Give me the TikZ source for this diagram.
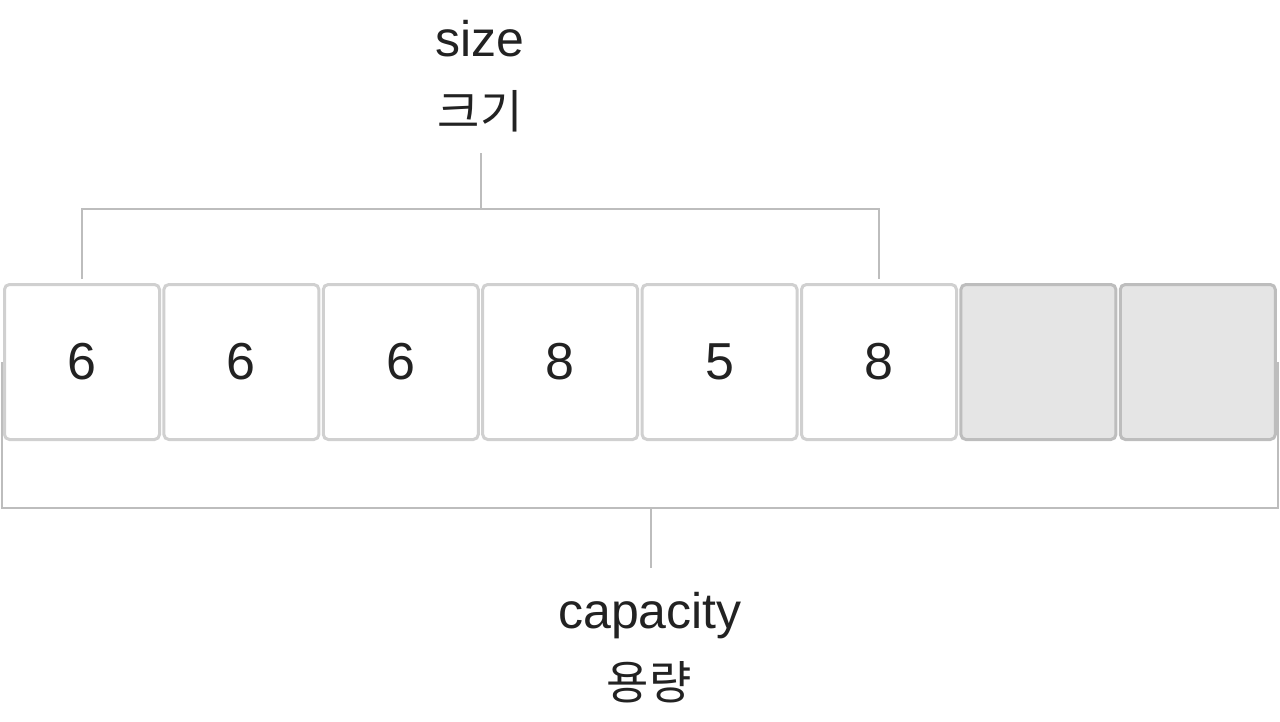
\documentclass[tikz,border=0pt]{standalone}
\usepackage{fontspec}
\setmainfont{Liberation Sans}
\newfontfamily\kr{Noto Sans CJK KR}
\begin{document}
\begin{tikzpicture}[x=1pt,y=-1pt,
  cell/.style={draw=cellline, line width=3pt, rounded corners=5pt, fill=white,
    minimum width=155pt, minimum height=155pt, inner sep=0pt, text=txt,
    font=\fontsize{52}{62}\selectfont},
  emptycell/.style={cell, draw=emptyline, fill=emptyfill},
  bracket/.style={draw=brline, line width=2pt},
  lbl/.style={anchor=base, inner sep=0pt, text=txt, font=\fontsize{50}{60}\selectfont},
  krlbl/.style={anchor=base, inner sep=0pt, text=txt, font=\kr\fontsize{46}{56}\selectfont}]
\definecolor{cellline}{HTML}{D0D0D0}
\definecolor{emptyline}{HTML}{BDBDBD}
\definecolor{emptyfill}{HTML}{E5E5E5}
\definecolor{brline}{HTML}{BDBDBD}
\definecolor{txt}{HTML}{222222}
\useasboundingbox (0,0) rectangle (1280,722);
% capacity bracket (behind cells)
\coordinate (capL) at (2,362);
\coordinate (capR) at (1278,362);
\coordinate (capLb) at (2,508);
\coordinate (capRb) at (1278,508);
\coordinate (capS) at (651,508);
\coordinate (capE) at (651,568);
\draw[bracket] (capL) -- (capLb) -- (capRb) -- (capR);
\draw[bracket] (capS) -- (capE);
% cells
\node[cell] (b1) at (82,362) {6};
\node[cell] (b2) at (241.4,362) {6};
\node[cell] (b3) at (400.8,362) {6};
\node[cell] (b4) at (560.2,362) {8};
\node[cell] (b5) at (719.6,362) {5};
\node[cell] (b6) at (879,362) {8};
\node[emptycell] (b7) at (1038.4,362) {};
\node[emptycell] (b8) at (1197.8,362) {};
% size bracket
\coordinate (sL) at (82,209);
\coordinate (sR) at (879,209);
\coordinate (sS) at (481,209);
\coordinate (sE) at (481,153);
\draw[bracket] (b1.north |- 0,279) -- (sL) -- (sR) -- (b6.north |- 0,279);
\draw[bracket] (sS) -- (sE);
% labels
\node[lbl] (size) at (480,57) {size};
\node[krlbl] (sizekr) at (480,129) {크기};
\node[lbl] (cap) at (650,628) {capacity};
\node[krlbl] (capkr) at (649,699) {용량};
\end{tikzpicture}
\end{document}
